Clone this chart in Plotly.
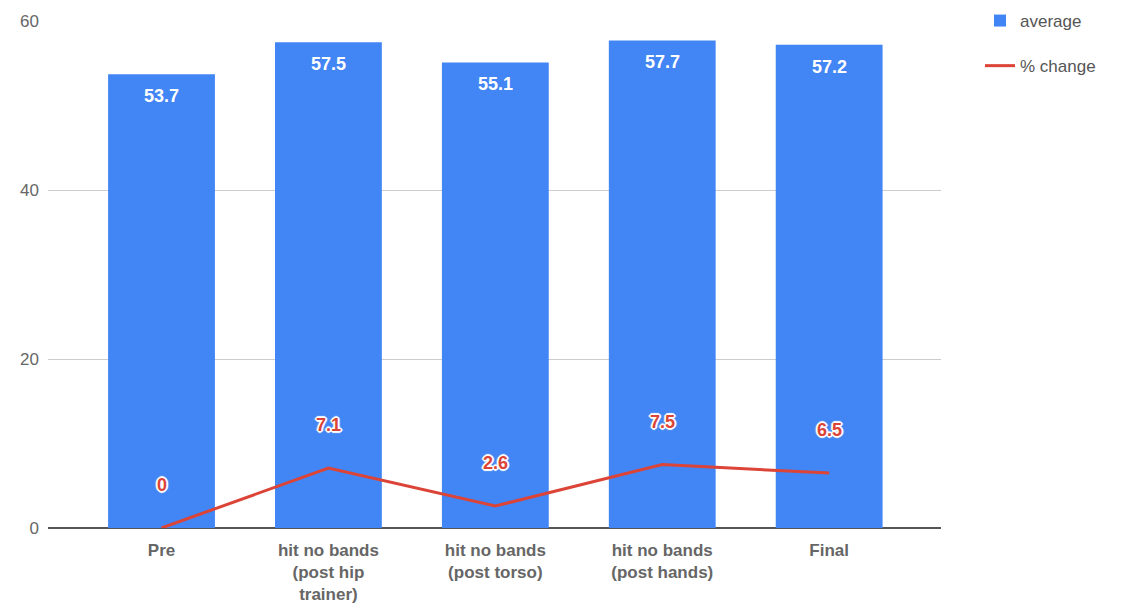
import plotly.graph_objects as go

categories = ["Pre", "hit no bands<br>(post hip<br>trainer)", "hit no bands<br>(post torso)",
              "hit no bands<br>(post hands)", "Final"]
average = [53.7, 57.5, 55.1, 57.7, 57.2]
pct_change = [0, 7.1, 2.6, 7.5, 6.5]
y_ticks = [0, 20, 40, 60]

BLUE = "#4285f4"
RED = "#db4437"
FONT = "Liberation Sans, Arial, sans-serif"

xs = list(range(len(categories)))

fig = go.Figure()
fig.add_trace(go.Bar(x=xs, y=average, name="average", marker=dict(color=BLUE, line=dict(width=0)),
                     width=0.64, hoverinfo="skip"))
fig.add_trace(go.Scatter(x=xs, y=pct_change, name="% change", mode="lines",
                         line=dict(color=RED, width=3), hoverinfo="skip", legendgroup="b"))

annotations = []
for x, v in zip(xs, average):
    annotations.append(dict(x=x, y=v, text=f"{v:g}", showarrow=False, yshift=-22, yanchor="middle",
                            font=dict(family=FONT, size=18, color="white", weight="bold")))
for x, v in zip(xs, pct_change):
    annotations.append(dict(x=x, y=v, text=f"{v:g}", showarrow=False, yshift=43, yanchor="middle",
                            font=dict(family=FONT, size=18, color=RED, weight="bold",
                                      shadow="1px 1px 0 white, -1px -1px 0 white, 1px -1px 0 white, -1px 1px 0 white, 0 2px 1px white, 0 -2px 1px white, 2px 0 1px white, -2px 0 1px white")))

fig.update_layout(
    width=1130, height=612,
    margin=dict(l=48, r=189, t=21, b=84, autoexpand=False),
    plot_bgcolor="white", paper_bgcolor="white",
    font=dict(family=FONT, size=17, color="#666"),
    annotations=annotations,
    showlegend=True,
    legend=dict(x=980 / 1130, y=1 - 3 / 612, xref="container", yref="container",
                xanchor="left", yanchor="top", tracegroupgap=20,
                traceorder="grouped", font=dict(size=17, color="#555"), itemwidth=30),
    xaxis=dict(tickmode="array", tickvals=xs, ticktext=categories, range=[-0.68, 4.67],
               showgrid=False, zeroline=False, showline=False, ticks="",
               tickfont=dict(size=17, color="#666", weight="bold"), ticklabelstandoff=10),
    yaxis=dict(range=[0, 60], tickvals=y_ticks, showgrid=True, gridcolor="#cccccc", gridwidth=1,
               zeroline=True, zerolinecolor="#555", zerolinewidth=2, ticks="",
               tickfont=dict(size=17, color="#666"), ticklabelstandoff=8),
)

fig.write_html("out.html")
